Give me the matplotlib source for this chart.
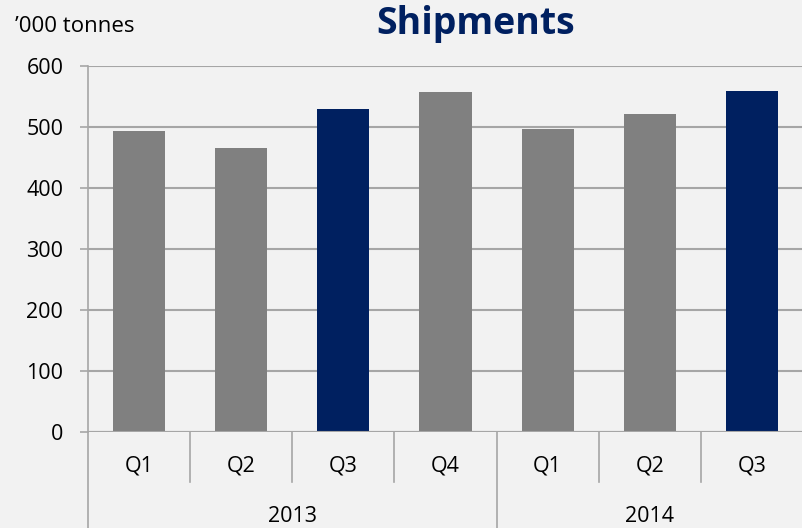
import matplotlib.pyplot as plt
import matplotlib.transforms as mtransforms

plt.rcParams['font.family'] = ['Open Sans', 'DejaVu Sans']

# data
years = ['2013', '2014']
quarters = ['Q1', 'Q2', 'Q3', 'Q4', 'Q1', 'Q2', 'Q3']
year_of = [0, 0, 0, 0, 1, 1, 1]
shipments = [493, 466, 530, 557, 496, 521, 559]
highlight = [False, False, True, False, False, False, True]

bg = '#f2f2f2'
grey = '#808080'
navy = '#002060'
line = '#a6a6a6'

fig = plt.figure(figsize=(8.03, 5.28), dpi=100, facecolor=bg)
ax = fig.add_axes([88 / 803, 96 / 528, 1 - 88 / 803, 366 / 528])
ax.set_facecolor(bg)

x = list(range(len(shipments)))
colors = [navy if h else grey for h in highlight]
ax.bar(x, shipments, width=0.51, color=colors, zorder=3)

ax.set_xlim(-0.5, len(x) - 0.5)
ax.set_ylim(0, 600)
ax.set_yticks(range(0, 601, 100))
ax.tick_params(axis='y', labelsize=15.5, length=5.8, color=line, width=1.2, pad=12)
ax.yaxis.grid(True, color=line, linewidth=1.5, zorder=0)
ax.set_xticks([])

for s in ['top', 'right', 'bottom']:
    ax.spines[s].set_visible(False)
ax.spines['left'].set_color(line)
ax.spines['left'].set_linewidth(1.2)
ax.axhline(0, color=line, linewidth=1.5, zorder=4)

# two-level category axis
tr = mtransforms.blended_transform_factory(ax.transData, ax.transAxes)
q_depth = -50 / 366
y_depth = -96 / 366
ax.plot([-0.5, -0.5], [0, y_depth], color=line, lw=1.2, transform=tr, clip_on=False)
for i, q in enumerate(quarters):
    ax.text(i, -34 / 366, q, transform=tr, ha='center', va='center', fontsize=15.5)
    if i > 0:
        bottom = y_depth if year_of[i] != year_of[i - 1] else q_depth
        ax.plot([i - 0.5, i - 0.5], [0, bottom], color=line, lw=1.2,
                transform=tr, clip_on=False)
for k, yr in enumerate(years):
    idx = [i for i, v in enumerate(year_of) if v == k]
    ax.text((idx[0] + idx[-1]) / 2, -84 / 366, yr, transform=tr,
            ha='center', va='center', fontsize=15.5)

fig.text(476 / 803, 1 - 24 / 528, 'Shipments', ha='center', va='center',
         fontsize=27, fontweight='bold', color=navy)
fig.text(15 / 803, 1 - 27 / 528, '\u2019000 tonnes', ha='left', va='center',
         fontsize=16)

fig.savefig('out.png', dpi=100, facecolor=bg)
